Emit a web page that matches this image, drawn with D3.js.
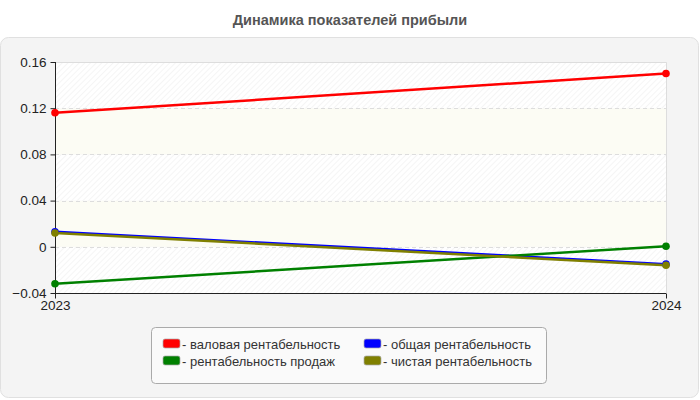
<!DOCTYPE html>
<html>
<head>
<meta charset="utf-8">
<script src="https://cdn.jsdelivr.net/npm/d3@7"></script>
<style>
  body { margin: 0; background: #fff; font-family: "Liberation Sans", Arial, sans-serif; }
</style>
</head>
<body>
<svg id="chart" width="700" height="400"></svg>
<script>
// data
var years = ["2023", "2024"];
var seriesNames = ["валовая рентабельность", "общая рентабельность", "рентабельность продаж", "чистая рентабельность"];
var seriesColors = ["#ff0000", "#0000ff", "#008000", "#808000"];
var grossMargin = [0.116, 0.150];
var totalMargin = [0.013, -0.015];
var salesMargin = [-0.032, 0.0005];
var netMargin = [0.012, -0.016];
var yTicks = [-0.04, 0, 0.04, 0.08, 0.12, 0.16];

var series = [grossMargin, totalMargin, salesMargin, netMargin].map(function (v, i) {
  return { name: seriesNames[i], color: seriesColors[i], values: v };
});

var svg = d3.select("#chart");

var plotLeft = 55, plotRight = 666, plotTop = 62, plotBottom = 293;

// title
svg.append("text")
  .attr("x", 350).attr("y", 25)
  .attr("text-anchor", "middle")
  .style("font-size", "14.5px").style("font-weight", "bold").style("fill", "#555")
  .text("Динамика показателей прибыли");

// panel
svg.append("rect")
  .attr("x", 0.5).attr("y", 37.5).attr("width", 698).attr("height", 360)
  .attr("rx", 8)
  .style("fill", "#f4f4f4").style("stroke", "#e0e0e0");

// hatch pattern
var defs = svg.append("defs");
var pat = defs.append("pattern")
  .attr("id", "hatch").attr("patternUnits", "userSpaceOnUse")
  .attr("width", 4).attr("height", 4)
  .attr("patternTransform", "rotate(45)");
pat.append("rect").attr("width", 4).attr("height", 4).style("fill", "#ffffff");
pat.append("line").attr("x1", 0).attr("y1", 0).attr("x2", 0).attr("y2", 4)
  .style("stroke", "#ececec").style("stroke-width", 1);

var x = d3.scalePoint().domain(years).range([plotLeft, plotRight]);
var y = d3.scaleLinear().domain([-0.04, 0.16]).range([plotBottom, plotTop]);

// background bands
var bands = d3.pairs(yTicks);
svg.append("g").selectAll("rect")
  .data(bands).enter()
  .append("rect")
  .attr("x", plotLeft).attr("width", plotRight - plotLeft)
  .attr("y", d => y(d[1])).attr("height", d => y(d[0]) - y(d[1]))
  .style("fill", (d, i) => i % 2 === 0 ? "url(#hatch)" : "#fcfcf4");

// grid
svg.append("g").selectAll("line")
  .data(yTicks.slice(1, -1)).enter()
  .append("line")
  .attr("x1", plotLeft).attr("x2", plotRight)
  .attr("y1", d => Math.round(y(d)) + 0.5).attr("y2", d => Math.round(y(d)) + 0.5)
  .style("stroke", "#dddddd").style("stroke-dasharray", "4,3");

// top and right border
svg.append("path")
  .attr("d", `M${plotLeft},${plotTop + 0.5}H${plotRight + 0.5}V${plotBottom}`)
  .style("fill", "none").style("stroke", "#dddddd");

// axes
var yAxis = d3.axisLeft(y).tickValues(yTicks).tickSize(5).tickPadding(4)
  .tickFormat(d => d === 0 ? "0" : d3.format(".2f")(d));
var gy = svg.append("g").attr("transform", `translate(${plotLeft + 0.5},0)`).call(yAxis);
gy.selectAll("text").style("font-size", "13.5px").style("fill", "#222").style("font-family", "Liberation Sans, Arial, sans-serif");
gy.select(".domain").attr("d", `M0,${plotTop}V${plotBottom}`).style("stroke", "#222");
gy.selectAll(".tick line").style("stroke", "#222");

var xAxis = d3.axisBottom(x).tickSize(5).tickPadding(2);
var gx = svg.append("g").attr("transform", `translate(0,${plotBottom + 0.5})`).call(xAxis);
gx.selectAll("text").style("font-size", "13.5px").style("fill", "#222").style("font-family", "Liberation Sans, Arial, sans-serif");
gx.select(".domain").attr("d", `M${plotLeft},0H${plotRight}`).style("stroke", "#222");
gx.selectAll(".tick line").style("stroke", "#222");

// lines
var line = d3.line()
  .x((d, i) => x(years[i]))
  .y(d => y(d));

var lines = svg.append("g");
lines.selectAll("path")
  .data(series).enter()
  .append("path")
  .attr("d", d => line(d.values))
  .style("fill", "none")
  .style("stroke", d => d.color)
  .style("stroke-width", 2.5);

lines.selectAll(".dots")
  .data(series).enter()
  .append("g")
  .style("fill", d => d.color)
  .selectAll("circle")
  .data(d => d.values).enter()
  .append("circle")
  .attr("cx", (d, i) => x(years[i]))
  .attr("cy", d => y(d))
  .attr("r", 3.8);

// legend
var lg = svg.append("g").attr("transform", "translate(151,327)");
lg.append("rect")
  .attr("x", 0.5).attr("y", 0.5).attr("width", 395).attr("height", 56).attr("rx", 4)
  .style("fill", "#fafafa").style("stroke", "#aaaaaa");

var items = lg.selectAll(".item")
  .data(series).enter()
  .append("g")
  .attr("transform", (d, i) => `translate(${i % 2 === 0 ? 12 : 213},${i < 2 ? 12 : 29})`);
items.append("rect")
  .attr("width", 17).attr("height", 9).attr("rx", 2)
  .style("fill", d => d.color).style("stroke", "#aaaaaa").style("stroke-width", 0.7);
items.append("text")
  .attr("x", 19).attr("y", 9.5)
  .style("font-size", "13px").style("fill", "#333")
  .text(d => "- " + d.name);
</script>
</body>
</html>
